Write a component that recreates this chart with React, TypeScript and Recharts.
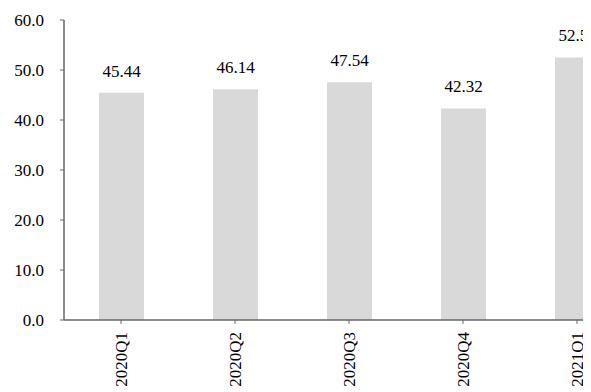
import React from 'react';
import { BarChart, Bar, XAxis, YAxis, LabelList } from 'recharts';

const categories = ['2020Q1', '2020Q2', '2020Q3', '2020Q4', '2021Q1'];
const values = [45.44, 46.14, 47.54, 42.32, 52.52];
const yTicks = [0, 10, 20, 30, 40, 50, 60];

const data = categories.map((c, i) => ({ name: c, value: values[i] }));

const FONT = '"Liberation Serif", "Times New Roman", serif';
const AXIS = '#666666';

const XTick = (props: any) => {
  const { x, y, payload } = props;
  return (
    <text
      x={x}
      y={y}
      transform={`rotate(-90, ${x}, ${y})`}
      textAnchor="end"
      dominantBaseline="central"
      fontFamily={FONT}
      fontSize={17}
      fill="#000"
    >
      {payload.value}
    </text>
  );
};

export default function App() {
  return (
    <div style={{ width: 583, height: 384, overflow: 'hidden' }}>
      <BarChart
        width={626}
        height={384}
        data={data}
        margin={{ top: 12, right: 0, bottom: 0, left: 0 }}
      >
        <XAxis
          dataKey="name"
          height={72}
          tick={<XTick />}
          tickSize={4}
          tickMargin={8}
          axisLine={{ stroke: AXIS, strokeWidth: 1.5 }}
          tickLine={{ stroke: AXIS }}
          interval={0}
        />
        <YAxis
          width={56}
          domain={[0, 60]}
          ticks={yTicks}
          tickFormatter={(v: number) => v.toFixed(1)}
          tickSize={4}
          tickMargin={16}
          axisLine={{ stroke: AXIS, strokeWidth: 1.5 }}
          tickLine={{ stroke: AXIS }}
          tick={{ fill: '#000', fontFamily: FONT, fontSize: 17 }}
        />
        <Bar dataKey="value" fill="#d9d9d9" barSize={45} isAnimationActive={false}>
          <LabelList
            dataKey="value"
            position="top"
            offset={16}
            formatter={(v: any) => Number(v).toFixed(2)}
            style={{ fill: '#000', fontFamily: FONT, fontSize: 17 }}
          />
        </Bar>
      </BarChart>
    </div>
  );
}
